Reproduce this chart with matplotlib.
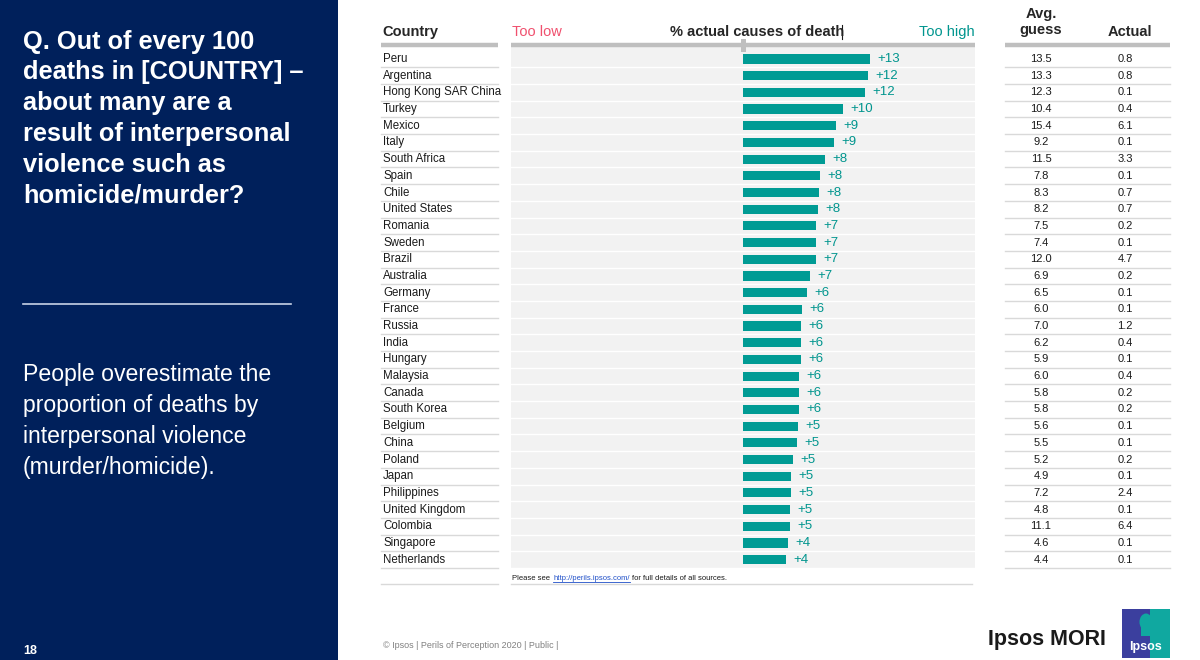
import matplotlib
matplotlib.use("Agg")
import matplotlib.pyplot as plt
import matplotlib.transforms as mtransforms
from matplotlib.patches import Rectangle, Ellipse

plt.rcParams['font.family'] = ['Liberation Sans', 'DejaVu Sans']

countries = ["Peru", "Argentina", "Hong Kong SAR China", "Turkey", "Mexico", "Italy",
             "South Africa", "Spain", "Chile", "United States", "Romania", "Sweden",
             "Brazil", "Australia", "Germany", "France", "Russia", "India", "Hungary",
             "Malaysia", "Canada", "South Korea", "Belgium", "China", "Poland", "Japan",
             "Philippines", "United Kingdom", "Colombia", "Singapore", "Netherlands"]
avg_guess = [13.5, 13.3, 12.3, 10.4, 15.4, 9.2, 11.5, 7.8, 8.3, 8.2, 7.5, 7.4, 12.0, 6.9,
             6.5, 6.0, 7.0, 6.2, 5.9, 6.0, 5.8, 5.8, 5.6, 5.5, 5.2, 4.9, 7.2, 4.8, 11.1,
             4.6, 4.4]
actual = [0.8, 0.8, 0.1, 0.4, 6.1, 0.1, 3.3, 0.1, 0.7, 0.7, 0.2, 0.1, 4.7, 0.2, 0.1, 0.1,
          1.2, 0.4, 0.1, 0.4, 0.2, 0.2, 0.1, 0.1, 0.2, 0.1, 2.4, 0.1, 6.4, 0.1, 0.1]
difference = [12.7, 12.5, 12.2, 10.0, 9.3, 9.1, 8.2, 7.7, 7.6, 7.5, 7.3, 7.3, 7.3, 6.7,
              6.4, 5.9, 5.8, 5.8, 5.8, 5.6, 5.6, 5.6, 5.5, 5.4, 5.0, 4.8, 4.8, 4.7, 4.7,
              4.5, 4.3]
diff_labels = ["+13", "+12", "+12", "+10", "+9", "+9", "+8", "+8", "+8", "+8", "+7", "+7",
               "+7", "+7", "+6", "+6", "+6", "+6", "+6", "+6", "+6", "+6", "+5", "+5",
               "+5", "+5", "+5", "+5", "+5", "+4", "+4"]

NAVY = "#00205B"
TEAL = "#009B94"
TEAL_TXT = "#00958E"
RED = "#F0506E"
DARK = "#262626"

W, H = 1200, 660
fig = plt.figure(figsize=(12, 6.6), dpi=100)
fig.patch.set_facecolor("white")

# overlay in pixel coordinates for slide decoration (below the chart)
ov = fig.add_axes([0, 0, 1, 1], zorder=0)
ov.set_xlim(0, W)
ov.set_ylim(H, 0)
ov.axis("off")

# overlay on top of the chart
top = fig.add_axes([0, 0, 1, 1], zorder=5)
top.set_xlim(0, W)
top.set_ylim(H, 0)
top.axis("off")
top.patch.set_alpha(0)

# left navy panel
ov.add_patch(Rectangle((0, 0), 338, H, color=NAVY, lw=0))
ov.text(23, 29.5, "Q. Out of every 100\ndeaths in [COUNTRY] –\nabout many are a\nresult of interpersonal\nviolence such as\nhomicide/murder?",
        color="white", fontsize=18.3, fontweight="bold", va="top", ha="left", linespacing=1.36)
ov.plot([23, 291], [304, 304], color="#C8D2E6", lw=1.2)
ov.text(23, 362.5, "People overestimate the\nproportion of deaths by\ninterpersonal violence\n(murder/homicide).",
        color="white", fontsize=16.6, va="top", ha="left", linespacing=1.46)
ov.text(23, 651, "18", color="white", fontsize=9, fontweight="bold", va="center", ha="left")

# bar axes
y_top_px, y_bot_px = 44, 568
x_l_px, x_r_px = 511, 975
ax = fig.add_axes([x_l_px / W, 1 - y_bot_px / H, (x_r_px - x_l_px) / W, (y_bot_px - y_top_px) / H], zorder=2)
n = len(countries)
ax.set_facecolor("#F2F2F2")
ax.set_xlim(-23.2, 23.2)
ax.set_ylim(n - 0.5, -0.9)
for s in ax.spines.values():
    s.set_visible(False)
ax.set_xticks([])
ax.set_yticks([])
for i in range(n):
    ax.axhline(i + 0.5, color="white", lw=1.0, zorder=1)
ax.barh(range(n), difference, height=0.55, color=TEAL, zorder=3)
for i, (d, lab) in enumerate(zip(difference, diff_labels)):
    ax.text(d + 0.7, i, lab, color=TEAL_TXT, fontsize=9.5, va="center", ha="left", zorder=4)

# blended transform: x in pixels (overlay), y in row units (bar axes)
tr = mtransforms.blended_transform_factory(ov.transData, ax.transData)

# headers
ov.text(382, 32, "Country", color=DARK, fontsize=10.5, fontweight="bold", va="center", ha="left")
ov.text(512, 32, "Too low", color=RED, fontsize=10.5, va="center", ha="left")
ov.text(757, 32, "% actual causes of death", color=DARK, fontsize=10.5, fontweight="bold", va="center", ha="center")
ov.plot([842, 842], [25, 39], color="#1A1A1A", lw=0.8)
ov.text(975, 32, "Too high", color=TEAL_TXT, fontsize=10.5, va="center", ha="right")
ov.text(1041, 22, "Avg.\nguess", color=DARK, fontsize=10.5, fontweight="bold", va="center", ha="center", linespacing=1.15)
ov.text(1130, 32, "Actual", color=DARK, fontsize=10.5, fontweight="bold", va="center", ha="center")

# header thick lines
for x0, x1 in [(381, 498), (511, 975), (1005, 1170)]:
    top.plot([x0, x1], [45, 45], color="#BFBFBF", lw=3.2, solid_capstyle="butt")
top.add_patch(Rectangle((741, 39), 4.5, 13, color="#BFBFBF", lw=0))

# country column and table
for i, c in enumerate(countries):
    ov.text(383, i, c, transform=tr, color="#1A1A1A", fontsize=8.3, va="center", ha="left")
    ov.text(1041, i, f"{avg_guess[i]:.1f}", transform=tr, color="#1A1A1A", fontsize=8, va="center", ha="center")
    ov.text(1125, i, f"{actual[i]:.1f}", transform=tr, color="#1A1A1A", fontsize=8, va="center", ha="center")
    ov.plot([381, 498], [i + 0.5, i + 0.5], transform=tr, color="#D9D9D9", lw=1.0)
    ov.plot([1005, 1170], [i + 0.5, i + 0.5], transform=tr, color="#D9D9D9", lw=1.0)

# footer of chart
ov.plot([381, 498], [584, 584], color="#D9D9D9", lw=1.0)
ov.plot([511, 972], [584, 584], color="#D9D9D9", lw=1.0)
ov.text(512, 578, "Please see", color="#1A1A1A", fontsize=5.5, va="center", ha="left")
ov.text(553, 578, "http://perils.ipsos.com/", color="#1F4FC8", fontsize=5.5, va="center", ha="left")
ov.plot([553, 630], [581.5, 581.5], color="#1F4FC8", lw=0.6)
ov.text(632, 578, "for full details of all sources.", color="#1A1A1A", fontsize=5.5, va="center", ha="left")

# slide footer
ov.text(383, 645, "© Ipsos | Perils of Perception 2020 | Public |", color="#808080", fontsize=6.5, va="center", ha="left")
ov.text(1047, 639, "Ipsos MORI", color="#1A1A1A", fontsize=15.5, fontweight="bold", va="center", ha="center")

# logo
ov.add_patch(Rectangle((1122, 609), 48, 49, color="#3B3F9E", lw=0, zorder=3))
ov.add_patch(Rectangle((1150, 609), 20, 49, color="#10A8A0", lw=0, zorder=3))
ov.add_patch(Ellipse((1146, 622), 13, 17, color="#10A8A0", lw=0, zorder=4))
ov.add_patch(Rectangle((1141, 626), 10, 10, color="#10A8A0", lw=0, zorder=4))
ov.text(1146, 647, "Ipsos", color="white", fontsize=9, fontweight="bold", va="center", ha="center", zorder=5)

fig.savefig("out.png", dpi=100)
